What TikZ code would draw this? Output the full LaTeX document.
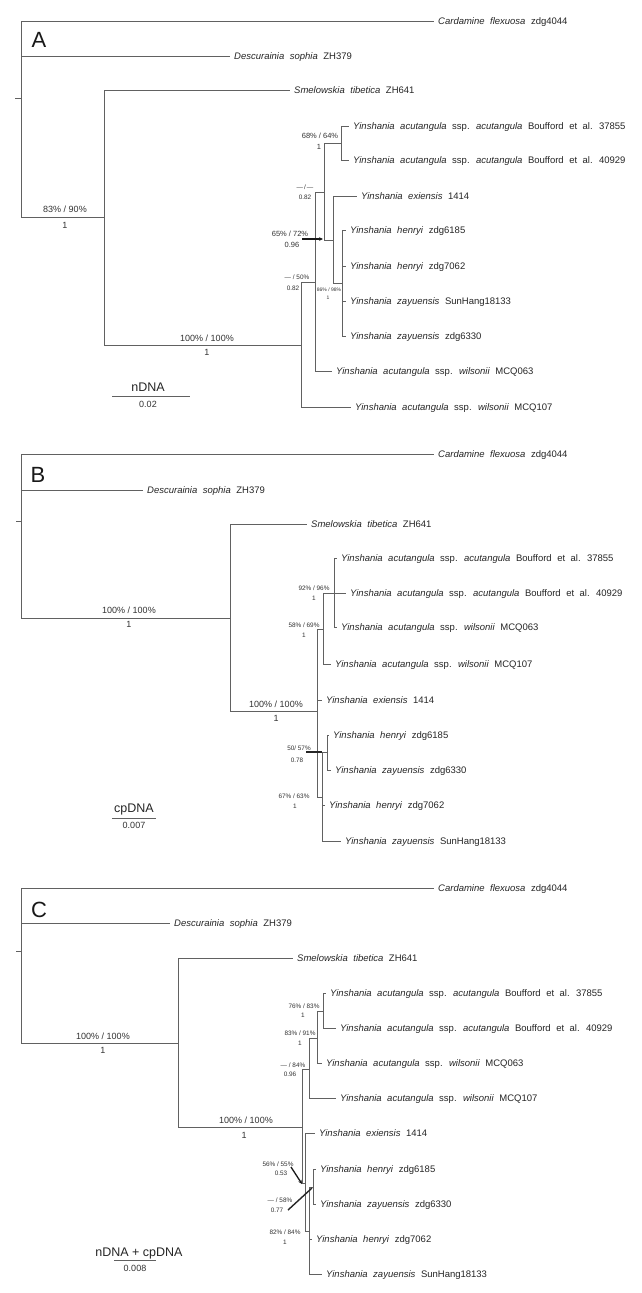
\documentclass[tikz,border=0pt]{standalone}
\usepackage{fontspec}
\setmainfont{Liberation Sans}
\usetikzlibrary{arrows.meta}
\newcommand{\wspc}{\spaceskip 5.5pt plus 1pt\relax}
\newcommand{\txCard}{\textit{Cardamine flexuosa} zdg4044}
\newcommand{\txDesc}{\textit{Descurainia sophia} ZH379}
\newcommand{\txSmel}{\textit{Smelowskia tibetica} ZH641}
\newcommand{\txAa}{\textit{Yinshania acutangula} ssp. \textit{acutangula} Boufford et al. 37855}
\newcommand{\txAb}{\textit{Yinshania acutangula} ssp. \textit{acutangula} Boufford et al. 40929}
\newcommand{\txExi}{\textit{Yinshania exiensis} 1414}
\newcommand{\txHa}{\textit{Yinshania henryi} zdg6185}
\newcommand{\txHb}{\textit{Yinshania henryi} zdg7062}
\newcommand{\txSun}{\textit{Yinshania zayuensis} SunHang18133}
\newcommand{\txZa}{\textit{Yinshania zayuensis} zdg6330}
\newcommand{\txWa}{\textit{Yinshania acutangula} ssp. \textit{wilsonii} MCQ063}
\newcommand{\txWb}{\textit{Yinshania acutangula} ssp. \textit{wilsonii} MCQ107}
\newcommand{\mkleaf}[4]{\coordinate (#1) at (#2,#3); \node[tx] (#1L) at ([xshift=4pt]#1) {\wspc #4};}
\begin{document}
\begin{tikzpicture}[x=1pt,y=-1pt,
  br/.style={draw=black!62, line width=0.85pt},
  tx/.style={anchor=west, inner sep=0pt, text height=6.8pt, text depth=0pt, text=black!85,
    font=\fontsize{9.5}{11}\selectfont},
  supL/.style={inner sep=0pt, text height=6.5pt, text depth=0pt, text=black!80, font=\fontsize{9}{10}\selectfont},
  supM/.style={inner sep=0pt, text height=5.4pt, text depth=0pt, text=black!80, font=\fontsize{7.5}{8}\selectfont},
  supS/.style={inner sep=0pt, text height=4.6pt, text depth=0pt, text=black!80, font=\fontsize{6.4}{7}\selectfont},
  supT/.style={inner sep=0pt, text height=3.6pt, text depth=0pt, text=black!80, font=\fontsize{5}{6}\selectfont},
  scl/.style={inner sep=0pt, text height=9pt, text depth=0pt, text=black!85, font=\fontsize{12.5}{14}\selectfont},
  big/.style={inner sep=0pt, text height=15.8pt, text depth=0pt, text=black!90, font=\fontsize{22}{24}\selectfont},
  ptr/.style={line width=1.3pt, draw=black!90, -{Stealth[length=4pt,width=3.6pt]}},
  bar/.style={line width=1.4pt, draw=black!85}
]
\fill[white] (0,0) rectangle (642,1293);
\useasboundingbox (0,0) rectangle (642,1293);

%% ================= PANEL A =================
\node[big] (labA) at (39,40) {A};
\coordinate (rA) at (21,98); \coordinate (rAt) at (15,98);
\draw[br] (rAt) -- (rA);
\mkleaf{aCard}{434}{21}{\txCard}
\mkleaf{aDesc}{230}{56}{\txDesc}
\coordinate (nA1) at (104,217);
\draw[br] (rA) |- (aCard); \draw[br] (rA) |- (aDesc); \draw[br] (rA) |- (nA1);
\mkleaf{aSmel}{290}{90}{\txSmel}
\coordinate (nA2) at (301,345);
\draw[br] (nA1) |- (aSmel); \draw[br] (nA1) |- (nA2);
\coordinate (nA3) at (315,282);
\mkleaf{aWb}{351}{407}{\txWb}
\draw[br] (nA2) |- (nA3); \draw[br] (nA2) |- (aWb);
\coordinate (nA4) at (324,192);
\mkleaf{aWa}{332}{371}{\txWa}
\draw[br] (nA3) |- (nA4); \draw[br] (nA3) |- (aWa);
\coordinate (nA5) at (341,143);
\coordinate (nA6) at (333,240);
\draw[br] (nA4) |- (nA5); \draw[br] (nA4) |- (nA6);
\mkleaf{aAa}{349}{126}{\txAa}
\mkleaf{aAb}{349}{160}{\txAb}
\draw[br] (nA5) |- (aAa); \draw[br] (nA5) |- (aAb);
\mkleaf{aExi}{357}{196}{\txExi}
\coordinate (nA7) at (342,283);
\draw[br] (nA6) |- (aExi); \draw[br] (nA6) |- (nA7);
\mkleaf{aHa}{346}{230}{\txHa}
\mkleaf{aHb}{346}{266}{\txHb}
\mkleaf{aSun}{346}{301}{\txSun}
\mkleaf{aZa}{346}{336}{\txZa}
\draw[br] (nA7) |- (aHa); \draw[br] (nA7) |- (aHb); \draw[br] (nA7) |- (aSun); \draw[br] (nA7) |- (aZa);
% supports A
\node[supL] (sA1) at (65,209) {83\% / 90\%};
\node[supL] (sA1p) at (65,225) {1};
\node[supL] (sA2) at (207,338) {100\% / 100\%};
\node[supL] (sA2p) at (207,352) {1};
\node[supM] (sA3) at (320,136) {68\% / 64\%};
\node[supM] (sA3p) at (319,147) {1};
\node[supS] (sA4) at (305,187) {—\,/\,—};
\node[supS] (sA4p) at (305,197) {0.82};
\node[supM] (sA5) at (290,234) {65\% / 72\%};
\node[supM] (sA5p) at (292,245) {0.96};
\coordinate (pA1) at (302,239); \coordinate (pA2) at (323,239);
\draw[ptr] (pA1) -- (pA2);
\node[supS] (sA6) at (297,277) {— / 50\%};
\node[supS] (sA6p) at (293,288) {0.82};
\node[supT] (sA7) at (329,290) {86\% / 98\%};
\node[supT] (sA7p) at (328,298) {1};
% scale A
\node[scl] (scA) at (148,387) {nDNA};
\coordinate (bA1) at (112,396); \coordinate (bA2) at (190,396);
\draw[br] (bA1) -- (bA2);
\node[supL] (scAv) at (148,404) {0.02};

%% ================= PANEL B =================
\node[big] (labB) at (38,475) {B};
\coordinate (rB) at (21,521); \coordinate (rBt) at (16,521);
\draw[br] (rBt) -- (rB);
\mkleaf{bCard}{434}{454}{\txCard}
\mkleaf{bDesc}{143}{490}{\txDesc}
\coordinate (nB1) at (230,618);
\draw[br] (rB) |- (bCard); \draw[br] (rB) |- (bDesc); \draw[br] (rB) |- (nB1);
\mkleaf{bSmel}{307}{524}{\txSmel}
\coordinate (nB2) at (317,711);
\draw[br] (nB1) |- (bSmel); \draw[br] (nB1) |- (nB2);
\coordinate (nB3) at (323,629);
\mkleaf{bExi}{322}{700}{\txExi}
\coordinate (nB5) at (322,797);
\draw[br] (nB2) |- (nB3); \draw[br] (nB2) |- (bExi); \draw[br] (nB2) |- (nB5);
\coordinate (nB4) at (334,593);
\mkleaf{bWb}{331}{664}{\txWb}
\draw[br] (nB3) |- (nB4); \draw[br] (nB3) |- (bWb);
\mkleaf{bAa}{337}{558}{\txAa}
\mkleaf{bAb}{346}{593}{\txAb}
\mkleaf{bWa}{337}{627}{\txWa}
\draw[br] (nB4) |- (bAa); \draw[br] (nB4) |- (bAb); \draw[br] (nB4) |- (bWa);
\coordinate (nB6) at (327,752);
\mkleaf{bHb}{325}{805}{\txHb}
\mkleaf{bSun}{341}{841}{\txSun}
\draw[br] (nB5) |- (nB6); \draw[br] (nB5) |- (bHb); \draw[br] (nB5) |- (bSun);
\mkleaf{bHa}{329}{735}{\txHa}
\mkleaf{bZa}{331}{770}{\txZa}
\draw[br] (nB6) |- (bHa); \draw[br] (nB6) |- (bZa);
% supports B
\node[supL] (sB1) at (129,610) {100\% / 100\%};
\node[supL] (sB1p) at (129,624) {1};
\node[supL] (sB2) at (276,704) {100\% / 100\%};
\node[supL] (sB2p) at (276,718) {1};
\node[supS] (sB3) at (314,588) {92\% / 96\%};
\node[supS] (sB3p) at (314,598) {1};
\node[supS] (sB4) at (304,625) {58\% / 69\%};
\node[supS] (sB4p) at (304,635) {1};
\node[supS] (sB5) at (299,748) {50/ 57\%};
\node[supS] (sB5p) at (297,760) {0.78};
\coordinate (pB1) at (306,752); \coordinate (pB2) at (322,752);
\draw[bar] (pB1) -- (pB2);
\node[supS] (sB6) at (294,796) {67\% / 63\%};
\node[supS] (sB6p) at (295,806) {1};
% scale B
\node[scl] (scB) at (134,808) {cpDNA};
\coordinate (bB1) at (112,818); \coordinate (bB2) at (156,818);
\draw[br] (bB1) -- (bB2);
\node[supL] (scBv) at (134,825) {0.007};

%% ================= PANEL C =================
\node[big] (labC) at (39,910) {C};
\coordinate (rC) at (21,951); \coordinate (rCt) at (16,951);
\draw[br] (rCt) -- (rC);
\mkleaf{cCard}{434}{888}{\txCard}
\mkleaf{cDesc}{170}{923}{\txDesc}
\coordinate (nC1) at (178,1043);
\draw[br] (rC) |- (cCard); \draw[br] (rC) |- (cDesc); \draw[br] (rC) |- (nC1);
\mkleaf{cSmel}{293}{958}{\txSmel}
\coordinate (nC2) at (302,1127);
\draw[br] (nC1) |- (cSmel); \draw[br] (nC1) |- (nC2);
\coordinate (nC3) at (309,1069);
\coordinate (nC6) at (305,1183);
\draw[br] (nC2) |- (nC3); \draw[br] (nC2) |- (nC6);
\coordinate (nC4) at (317,1038);
\mkleaf{cWb}{336}{1098}{\txWb}
\draw[br] (nC3) |- (nC4); \draw[br] (nC3) |- (cWb);
\coordinate (nC5) at (323,1011);
\mkleaf{cWa}{322}{1063}{\txWa}
\draw[br] (nC4) |- (nC5); \draw[br] (nC4) |- (cWa);
\mkleaf{cAa}{326}{993}{\txAa}
\mkleaf{cAb}{336}{1028}{\txAb}
\draw[br] (nC5) |- (cAa); \draw[br] (nC5) |- (cAb);
\mkleaf{cExi}{315}{1133}{\txExi}
\coordinate (nC7) at (309,1231);
\draw[br] (nC6) |- (cExi); \draw[br] (nC6) |- (nC7);
\coordinate (nC8) at (313,1187);
\mkleaf{cHb}{312}{1239}{\txHb}
\mkleaf{cSun}{322}{1274}{\txSun}
\draw[br] (nC7) |- (nC8); \draw[br] (nC7) |- (cHb); \draw[br] (nC7) |- (cSun);
\mkleaf{cHa}{316}{1169}{\txHa}
\mkleaf{cZa}{316}{1204}{\txZa}
\draw[br] (nC8) |- (cHa); \draw[br] (nC8) |- (cZa);
% supports C
\node[supL] (sC1) at (103,1036) {100\% / 100\%};
\node[supL] (sC1p) at (103,1050) {1};
\node[supL] (sC2) at (246,1120) {100\% / 100\%};
\node[supL] (sC2p) at (244,1135) {1};
\node[supS] (sC3) at (304,1006) {76\% / 83\%};
\node[supS] (sC3p) at (303,1015) {1};
\node[supS] (sC4) at (300,1033) {83\% / 91\%};
\node[supS] (sC4p) at (300,1043) {1};
\node[supS] (sC5) at (293,1065) {— / 84\%};
\node[supS] (sC5p) at (290,1074) {0.96};
\node[supS] (sC6) at (278,1164) {56\% / 55\%};
\node[supS] (sC6p) at (281,1173) {0.53};
\coordinate (pC1) at (291,1167); \coordinate (pC2) at (302,1184);
\draw[ptr] (pC1) -- (pC2);
\node[supS] (sC7) at (280,1200) {— / 58\%};
\node[supS] (sC7p) at (277,1210) {0.77};
\coordinate (pC3) at (288,1210); \coordinate (pC4) at (312,1188);
\draw[bar] (pC3) -- (pC4);
\node[supS] (sC8) at (285,1232) {82\% / 84\%};
\node[supS] (sC8p) at (285,1242) {1};
% scale C
\node[scl] (scC) at (139,1252) {nDNA + cpDNA};
\coordinate (bC1) at (114,1260); \coordinate (bC2) at (156,1260);
\draw[br] (bC1) -- (bC2);
\node[supL] (scCv) at (135,1268) {0.008};
\end{tikzpicture}
\end{document}
